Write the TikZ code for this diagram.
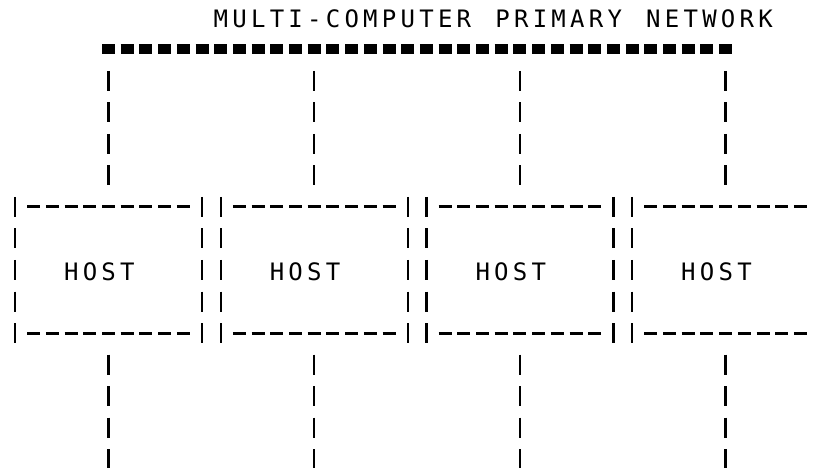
\documentclass[tikz,border=0pt]{standalone}
\usepackage{fontspec}
\newfontfamily\lpfont{DejaVu Sans Mono}[LetterSpace=17.7,WordSpace=1.294]
\begin{document}
\begin{tikzpicture}[x=1pt,y=-1pt,
  vbar/.style={line width=2.4pt, dash pattern=on 20pt off 11.5pt},
  hdash/.style={line width=3pt, dash pattern=on 13pt off 5.7pt},
  netline/.style={line width=10pt, dash pattern=on 13pt off 5.7pt},
  lptext/.style={font=\lpfont\fontsize{24}{28}\selectfont, inner sep=0pt, anchor=base west},
  hostbox/.style={inner sep=0pt, outer sep=0pt, minimum width=187pt, minimum height=126pt}]
\fill[white] (0,0) rectangle (815,468);
\useasboundingbox (0,0) rectangle (815,468);
% title
\node[lptext] (title) at (213.5,28) {MULTI-COMPUTER PRIMARY NETWORK};
% primary network
\node[inner sep=0pt, outer sep=0pt, minimum width=630.1pt, minimum height=10pt] (net) at (417.05,49.5) {};
\draw[netline] (net.west) -- (net.east);
% hosts
\foreach \hi/\hc in {1/0,2/11,3/22,4/33}{
  \node[hostbox] (h\hi) at ({15+18.7*(\hc+5)},270) {};
  \node[lptext] (t\hi) at ({15+18.7*(\hc+3)-7.2},280) {HOST};
  % box sides
  \draw[vbar] ([yshift=10pt]h\hi.north west) -- ([yshift=-10pt]h\hi.south west);
  \ifnum\hi<4
    \draw[vbar] ([yshift=10pt]h\hi.north east) -- ([yshift=-10pt]h\hi.south east);
    \draw[hdash] ([xshift=12.2pt]h\hi.north west) -- ([xshift=-12.2pt]h\hi.north east);
    \draw[hdash] ([xshift=12.2pt]h\hi.south west) -- ([xshift=-12.2pt]h\hi.south east);
  \else
    \draw[hdash] ([xshift=12.2pt]h\hi.north west) -- ([xshift=-12.2pt]h\hi.north east);
    \draw[hdash] ([xshift=12.2pt]h\hi.south west) -- ([xshift=-12.2pt]h\hi.south east);
  \fi
  % connectors
  \path (h\hi.north |- net.south) ++(0,16.5) coordinate (up\hi);
  \path (h\hi.north) ++(0,-21.5) coordinate (dn\hi);
  \draw[vbar] (up\hi) -- (dn\hi);
  \path (h\hi.south) ++(0,21.5) coordinate (lo\hi);
  \path (lo\hi) ++(0,114.5) coordinate (end\hi);
  \draw[vbar] (lo\hi) -- (end\hi);
}
\end{tikzpicture}
\end{document}
